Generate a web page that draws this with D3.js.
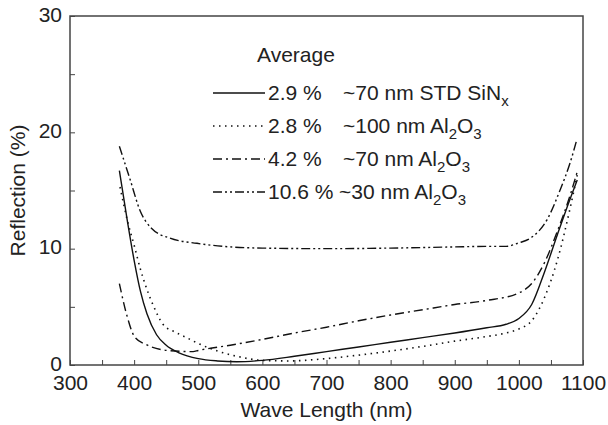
<!DOCTYPE html>
<html>
<head>
<meta charset="utf-8">
<script src="https://cdn.jsdelivr.net/npm/d3@7"></script>
<style>
  body { margin: 0; background: #fff; }
  text { font-family: "Liberation Sans", Arial, sans-serif; fill: #222; }
</style>
</head>
<body>
<div id="chart"></div>
<script>
// series values (wavelength nm, reflection %)
const stdSiN = [[377,16.7],[390,12.2],[400,9.0],[410,6.3],[420,4.4],[435,2.6],[450,1.7],[470,1.05],[500,0.55],[530,0.35],[560,0.28],[600,0.4],[650,0.75],[700,1.15],[750,1.55],[800,1.95],[850,2.35],[900,2.75],[950,3.2],[980,3.5],[1000,4.0],[1020,5.2],[1040,8.0],[1060,11.2],[1080,14.3],[1091,15.9]];
const al100 = [[378,15.3],[390,12.3],[400,10.3],[410,8.2],[420,6.5],[430,5.1],[445,3.5],[465,2.8],[480,2.4],[500,1.85],[530,1.2],[560,0.75],[600,0.4],[640,0.35],[700,0.55],[750,0.85],[800,1.2],[850,1.6],[900,2.05],[950,2.45],[980,2.75],[1000,3.1],[1020,3.8],[1040,5.8],[1060,9.0],[1080,13.5],[1092,16.6]];
const al70 = [[377,7.0],[388,4.4],[401,2.4],[420,1.72],[456,1.23],[492,1.15],[500,1.25],[550,1.7],[600,2.2],[650,2.75],[700,3.25],[750,3.8],[800,4.3],[850,4.75],[900,5.2],[950,5.55],[1000,6.2],[1020,7.0],[1040,8.8],[1060,11.5],[1080,14.6],[1092,16.8]];
const al30 = [[377,18.8],[394,15.9],[409,13.3],[427,11.75],[456,10.9],[498,10.46],[550,10.15],[600,10.05],[700,10.0],[800,10.05],[900,10.15],[950,10.2],[980,10.2],[1000,10.5],[1018,10.9],[1044,12.5],[1064,15.0],[1080,17.4],[1090,19.3]];

const legendAvg = ["2.9 %", "2.8 %", "4.2 %", "10.6 %"];
const xTicks = [300,350,400,450,500,550,600,650,700,750,800,850,900,950,1000,1050,1100];
const yTicks = [0,5,10,15,20,25,30];

const margin = { top: 16, right: 25, bottom: 60, left: 70 };
const width = 608 - margin.left - margin.right;
const height = 425 - margin.top - margin.bottom;

const svg = d3.select("#chart").append("svg")
  .attr("width", 608).attr("height", 425);
const g = svg.append("g")
  .attr("transform", "translate(" + margin.left + "," + margin.top + ")");

const x = d3.scaleLinear().domain([300, 1100]).range([0, width]);
const y = d3.scaleLinear().domain([0, 30]).range([height, 0]);

// axes, ticks point inward
const xAxis = g.append("g")
  .attr("transform", "translate(0," + height + ")")
  .call(d3.axisBottom(x).tickValues(xTicks).tickSize(-5).tickPadding(10)
    .tickFormat(d => d % 100 === 0 ? d : ""));
const yAxis = g.append("g")
  .call(d3.axisLeft(y).tickValues(yTicks).tickSize(-5).tickPadding(8)
    .tickFormat(d => d % 10 === 0 ? d : ""));
[xAxis, yAxis].forEach(a => {
  a.select(".domain").remove();
  a.selectAll("line").attr("stroke", "#444").attr("stroke-width", 1);
  a.selectAll("text").attr("font-size", 21).attr("fill", "#222")
    .style("font-family", "'Liberation Sans', Arial, sans-serif");
});
yAxis.selectAll("text").attr("dy", "0.25em");

// frame
g.append("rect")
  .attr("width", width).attr("height", height)
  .attr("fill", "none").attr("stroke", "#444").attr("stroke-width", 1.5);

// axis titles
g.append("text")
  .attr("x", width / 2).attr("y", height + 52)
  .attr("text-anchor", "middle").attr("font-size", 21)
  .text("Wave Length (nm)");
g.append("text")
  .attr("transform", "translate(-45," + (height / 2) + ") rotate(-90)")
  .attr("text-anchor", "middle").attr("font-size", 21)
  .text("Reflection (%)");

// curves
const line = d3.line()
  .x(d => x(d[0]))
  .y(d => y(d[1]))
  .curve(d3.curveMonotoneX);

const series = [
  { data: stdSiN, dash: null, label: ["~70 nm STD SiN", "x", ""] },
  { data: al100, dash: "1.5,4.5", label: ["~100 nm Al", "2", "O", "3"] },
  { data: al70, dash: "9,4,2,4", label: ["~70 nm Al", "2", "O", "3"] },
  { data: al30, dash: "9,3,2,3,2,3", label: ["~30 nm Al", "2", "O", "3"] }
];

g.selectAll(".curve")
  .data(series)
  .enter().append("path")
  .attr("class", "curve")
  .attr("d", d => line(d.data))
  .attr("fill", "none")
  .attr("stroke", "#111")
  .attr("stroke-width", d => d.dash === "1.5,4.5" ? 1.6 : 1.4)
  .attr("stroke-dasharray", d => d.dash);

// legend
const lg = svg.append("g");
lg.append("text").attr("x", 257).attr("y", 62).attr("font-size", 21).text("Average");

const rows = lg.selectAll(".row")
  .data(series)
  .enter().append("g")
  .attr("class", "row")
  .attr("transform", (d, i) => "translate(0," + (93 + i * 33) + ")");
rows.append("line")
  .attr("x1", 213).attr("x2", 265)
  .attr("stroke", "#111").attr("stroke-width", 1.4)
  .attr("stroke-dasharray", d => d.dash);
rows.append("text")
  .attr("x", 268).attr("y", 7).attr("font-size", 21)
  .text((d, i) => legendAvg[i]);
rows.each(function(d, i) {
  const t = d3.select(this).append("text")
    .attr("x", i === 3 ? 339 : 343).attr("y", 7).attr("font-size", 21);
  t.append("tspan").text(d.label[0]);
  t.append("tspan").attr("font-size", 15).attr("dy", 6).text(d.label[1]);
  if (d.label.length > 3) {
    t.append("tspan").attr("dy", -6).text(d.label[2]);
    t.append("tspan").attr("font-size", 15).attr("dy", 6).text(d.label[3]);
  }
});
</script>
</body>
</html>
